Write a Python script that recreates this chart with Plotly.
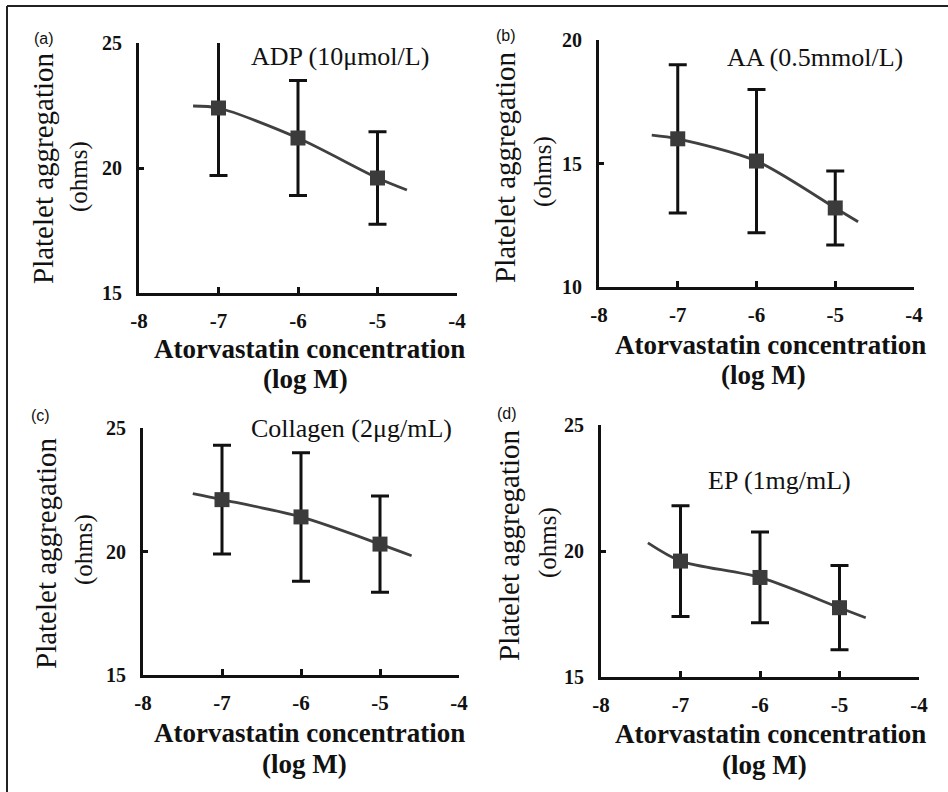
import plotly.graph_objects as go

# ---------------- data ----------------
conc = [-7, -6, -5]

adp_mean = [22.4, 21.2, 19.6]
adp_err = [2.7, 2.3, 1.85]
adp_fit_x = [-7.32, -7, -6, -5, -4.63]
adp_fit_y = [22.48, 22.4, 21.2, 19.6, 19.12]

aa_mean = [16.0, 15.1, 13.2]
aa_err = [3.0, 2.9, 1.5]
aa_fit_x = [-7.33, -7, -6, -5, -4.71]
aa_fit_y = [16.15, 16.0, 15.1, 13.2, 12.64]

col_mean = [22.1, 21.4, 20.3]
col_err = [2.2, 2.6, 1.95]
col_fit_x = [-7.37, -7, -6, -5, -4.6]
col_fit_y = [22.34, 22.1, 21.4, 20.3, 19.83]

ep_mean = [19.6, 18.95, 17.75]
ep_err = [2.2, 1.8, 1.67]
ep_fit_x = [-7.41, -7, -6, -5, -4.67]
ep_fit_y = [20.32, 19.6, 18.95, 17.75, 17.35]

x_ticks = [-8, -7, -6, -5, -4]
y_ticks_a = [15, 20, 25]
y_ticks_b = [10, 15, 20]
y_ticks_c = [15, 20, 25]
y_ticks_d = [15, 20, 25]

panel_labels = ["(a)", "(b)", "(c)", "(d)"]
agonists = ["ADP (10\u03bcmol/L)", "AA (0.5mmol/L)", "Collagen (2\u03bcg/mL)", "EP (1mg/mL)"]
y_title_1 = "Platelet aggregation"
y_title_2 = "(ohms)"
x_title_1 = "Atorvastatin concentration"
x_title_2 = "(log M)"

# ---------------- layout helpers ----------------
W, H = 948, 792
SERIF = "Liberation Serif"
SANS = "Liberation Sans"
INK = "#111111"


def fx(p):
    return p / W


def fy(p):
    return 1 - p / H


panels = [
    dict(mean=adp_mean, err=adp_err, fx_=adp_fit_x, fy_=adp_fit_y, yt=y_ticks_a,
         dx=(139, 457), dy=(43, 293),
         lab=(44, 38), ann=(340, 56), yt1=(43, 168), yt2=(79, 177), xt1=(309, 349), xt2=(305, 379)),
    dict(mean=aa_mean, err=aa_err, fx_=aa_fit_x, fy_=aa_fit_y, yt=y_ticks_b,
         dx=(599, 914), dy=(40, 287),
         lab=(506, 36), ann=(815, 57), yt1=(505, 167), yt2=(543, 172), xt1=(770, 345), xt2=(763, 375)),
    dict(mean=col_mean, err=col_err, fx_=col_fit_x, fy_=col_fit_y, yt=y_ticks_c,
         dx=(143, 459), dy=(428, 675),
         lab=(40, 415), ann=(351, 429), yt1=(46, 553), yt2=(84, 550), xt1=(309, 733), xt2=(304, 764)),
    dict(mean=ep_mean, err=ep_err, fx_=ep_fit_x, fy_=ep_fit_y, yt=y_ticks_d,
         dx=(601, 919), dy=(425, 677),
         lab=(507, 413), ann=(779, 480), yt1=(509, 545), yt2=(548, 543), xt1=(770, 734), xt2=(764, 765)),
]

fig = go.Figure()
annotations = []
layout_axes = {}

for i, p in enumerate(panels):
    n = "" if i == 0 else str(i + 1)
    xa, ya = "x" + n, "y" + n

    # fitted curve
    fig.add_trace(go.Scatter(
        x=p["fx_"], y=p["fy_"], xaxis=xa, yaxis=ya, mode="lines",
        line=dict(color="#404040", width=2.8, shape="spline", smoothing=0.8),
        hoverinfo="skip", showlegend=False, cliponaxis=False))
    # means with error bars
    fig.add_trace(go.Scatter(
        x=conc, y=p["mean"], xaxis=xa, yaxis=ya, mode="markers",
        marker=dict(symbol="square", size=15, color="#3b3b3b"),
        error_y=dict(type="data", array=p["err"], visible=True, color=INK,
                     thickness=3, width=9),
        showlegend=False, cliponaxis=False))

    yt = p["yt"]
    layout_axes["xaxis" + n] = dict(
        domain=[fx(p["dx"][0]), fx(p["dx"][1])], anchor=ya, range=[-8, -4],
        tickvals=x_ticks, ticktext=[str(v) for v in x_ticks],
        showline=True, linewidth=3, linecolor=INK, ticks="inside", ticklen=6,
        tickwidth=3, tickcolor=INK, showgrid=False, zeroline=False,
        tickfont=dict(family=SERIF, size=21, color=INK, weight="bold"),
        ticklabelstandoff=7, fixedrange=True, automargin=False)
    layout_axes["yaxis" + n] = dict(
        domain=[fy(p["dy"][1]), fy(p["dy"][0])], anchor=xa, range=[yt[0], yt[-1]],
        tickvals=yt, ticktext=[str(v) for v in yt],
        showline=True, linewidth=3, linecolor=INK, ticks="inside", ticklen=5,
        tickwidth=3, tickcolor=INK, showgrid=False, zeroline=False,
        tickfont=dict(family=SERIF, size=20, color=INK, weight="bold"),
        ticklabelstandoff=10, fixedrange=True, automargin=False)

    def ann(text, pos, size, family=SERIF, bold=False, angle=0):
        annotations.append(dict(
            text=text, x=fx(pos[0]), y=fy(pos[1]), xref="paper", yref="paper",
            xanchor="center", yanchor="middle", showarrow=False, textangle=angle,
            font=dict(family=family, size=size, color=INK,
                      weight="bold" if bold else "normal")))

    ann(panel_labels[i], p["lab"], 16, family=SANS)
    ann(agonists[i], p["ann"], 26)
    ann(y_title_1, p["yt1"], 29, angle=-90)
    ann(y_title_2, p["yt2"], 25, angle=-90)
    ann(x_title_1, p["xt1"], 27, bold=True)
    ann(x_title_2, p["xt2"], 27, bold=True)

# frame lines (top and left only)
shapes = [
    dict(type="line", xref="paper", yref="paper", x0=fx(7), x1=1.0, y0=fy(6), y1=fy(6),
         line=dict(color="#222222", width=2)),
    dict(type="line", xref="paper", yref="paper", x0=fx(7), x1=fx(7), y0=fy(6), y1=0.0,
         line=dict(color="#222222", width=2)),
]

fig.update_layout(
    width=W, height=H, margin=dict(l=0, r=0, t=0, b=0, pad=0),
    paper_bgcolor="white", plot_bgcolor="white",
    font=dict(family=SERIF, color=INK),
    annotations=annotations, shapes=shapes, showlegend=False,
    **layout_axes)

page_fix = (
    "document.documentElement.style.margin='0';"
    "document.documentElement.style.padding='0';"
    "document.documentElement.style.overflow='hidden';"
    "document.body.style.margin='0';"
    "document.body.style.padding='0';"
    "document.body.style.overflow='hidden';"
)

fig.write_html("out.html", post_script=page_fix, config={"responsive": False, "displayModeBar": False})
